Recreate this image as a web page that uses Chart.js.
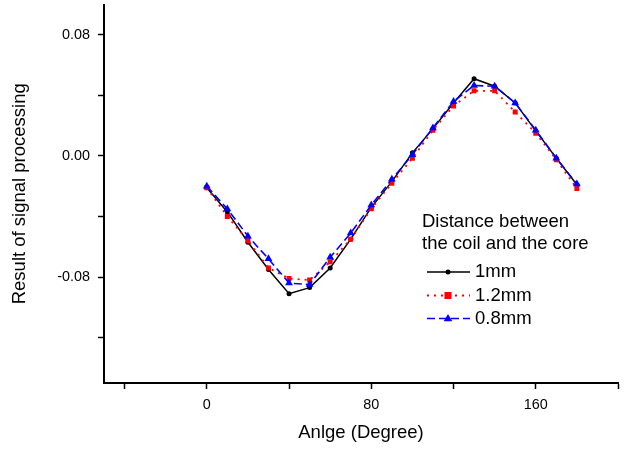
<!DOCTYPE html>
<html>
<head>
<meta charset="utf-8">
<script src="https://cdn.jsdelivr.net/npm/chart.js@4/dist/chart.umd.min.js"></script>
<style>
  html, body { margin: 0; padding: 0; background: #fff; }
  #wrap { width: 627px; height: 449px; position: relative; }
</style>
</head>
<body>
<div id="wrap"><canvas id="c" width="627" height="449"></canvas></div>
<script>
// ---- data ----
const angles = [0, 10, 20, 30, 40, 50, 60, 70, 80, 90, 100, 110, 120, 130, 140, 150, 160, 170, 180];
const series1mm  = [-0.021, -0.037, -0.057, -0.075, -0.091, -0.087, -0.074, -0.055, -0.034, -0.017, 0.002, 0.018, 0.035, 0.051, 0.046, 0.035, 0.0165, -0.0015, -0.019];
const series12mm = [-0.021, -0.040, -0.056, -0.074, -0.081, -0.082, -0.070, -0.055, -0.035, -0.018, -0.0015, 0.017, 0.033, 0.043, 0.043, 0.029, 0.015, -0.0025, -0.0215];
const series08mm = [-0.020, -0.035, -0.053, -0.068, -0.084, -0.085, -0.067, -0.051, -0.0325, -0.0155, 0.0008, 0.0185, 0.036, 0.0465, 0.046, 0.035, 0.017, -0.0015, -0.0186];
const seriesLabels = ['1mm', '1.2mm', '0.8mm'];
const legendTitle = ['Distance between', 'the coil and the core'];
const xTicks = [-40, 0, 40, 80, 120, 160, 200];
const xLabeled = [0, 80, 160];
const yTicks = [-0.12, -0.08, -0.04, 0, 0.04, 0.08];
const yLabeled = [-0.08, 0, 0.08];
const xTitle = 'Anlge (Degree)';
const yTitle = 'Result of signal processing';

const FONT = '"Liberation Sans", Arial, sans-serif';

function pts(arr) { return angles.map((a, i) => ({ x: a, y: arr[i] })); }

const styles = [
  { color: '#000000', dash: [], point: 'circle', r: 2.5, width: 1.5 },
  { color: '#ff0000', dash: [2, 5], point: 'rect', r: 3.5, width: 1.8 },
  { color: '#0000ff', dash: [8, 4], point: 'triangle', r: 4.5, width: 1.6 }
];
const seriesData = [series1mm, series12mm, series08mm];

const datasets = seriesData.map((s, i) => ({
  label: seriesLabels[i],
  data: pts(s),
  borderColor: styles[i].color,
  backgroundColor: styles[i].color,
  borderWidth: styles[i].width,
  borderDash: styles[i].dash,
  pointStyle: styles[i].point,
  pointRadius: styles[i].r,
  pointBorderWidth: 0,
  pointBackgroundColor: styles[i].color,
  pointBorderColor: styles[i].color,
  tension: 0,
  order: 3 - i
}));

const legendPlugin = {
  id: 'customLegend',
  afterDraw(chart) {
    const ctx = chart.ctx;
    ctx.save();
    ctx.font = '18.5px ' + FONT;
    ctx.fillStyle = '#000';
    ctx.textBaseline = 'middle';
    ctx.textAlign = 'left';
    ctx.fillText(legendTitle[0], 422, 222);
    ctx.fillText(legendTitle[1], 422, 243.5);
    const rows = [272, 295.5, 318.5];
    seriesLabels.forEach((lab, i) => {
      const st = styles[i];
      const y = rows[i];
      ctx.strokeStyle = st.color;
      ctx.lineWidth = st.width;
      ctx.setLineDash(st.dash);
      ctx.beginPath();
      ctx.moveTo(427, y);
      ctx.lineTo(470, y);
      ctx.stroke();
      ctx.setLineDash([]);
      ctx.fillStyle = st.color;
      const cx = 448;
      if (st.point === 'circle') {
        ctx.beginPath(); ctx.arc(cx, y, st.r, 0, Math.PI * 2); ctx.fill();
      } else if (st.point === 'rect') {
        ctx.fillRect(cx - st.r, y - st.r, st.r * 2, st.r * 2);
      } else {
        const r = st.r;
        ctx.beginPath();
        ctx.moveTo(cx, y - r);
        ctx.lineTo(cx + r * 0.95, y + r * 0.6);
        ctx.lineTo(cx - r * 0.95, y + r * 0.6);
        ctx.closePath(); ctx.fill();
      }
      ctx.fillStyle = '#000';
      ctx.fillText(lab, 475, y);
    });
    ctx.restore();
  }
};

new Chart(document.getElementById('c'), {
  type: 'line',
  data: { datasets },
  options: {
    responsive: false,
    animation: false,
    events: [],
    layout: { padding: { left: 0, right: 9, top: 2, bottom: 0 } },
    plugins: { legend: { display: false }, tooltip: { enabled: false } },
    scales: {
      x: {
        type: 'linear',
        min: -50, max: 200,
        afterBuildTicks(scale) { scale.ticks = xTicks.map(v => ({ value: v })); },
        afterFit(scale) { scale.height = 66; scale.paddingLeft = 0; scale.paddingRight = 0; },
        grid: { drawOnChartArea: false, drawTicks: true, tickLength: 6, tickWidth: 1.5, tickColor: '#000' },
        border: { display: true, color: '#000', width: 2 },
        ticks: {
          color: '#000', padding: 7, maxRotation: 0, autoSkip: false,
          font: { family: FONT, size: 14.4 },
          callback: v => xLabeled.includes(v) ? String(v) : ''
        },
        title: { display: true, text: xTitle, color: '#000', font: { family: FONT, size: 18.5 }, padding: { top: 5, bottom: 5 } }
      },
      y: {
        type: 'linear',
        min: -0.15, max: 0.10,
        afterBuildTicks(scale) { scale.ticks = yTicks.map(v => ({ value: v })); },
        afterFit(scale) { scale.width = 104; scale.paddingTop = 0; scale.paddingBottom = 0; },
        grid: { drawOnChartArea: false, drawTicks: true, tickLength: 6, tickWidth: 1.5, tickColor: '#000' },
        border: { display: true, color: '#000', width: 2 },
        ticks: {
          color: '#000', padding: 8, autoSkip: false,
          font: { family: FONT, size: 14.4 },
          callback: v => yLabeled.some(t => Math.abs(t - v) < 1e-9) ? (Math.abs(v) < 1e-9 ? '0.00' : v.toFixed(2)) : ''
        },
        title: { display: true, text: yTitle, color: '#000', font: { family: FONT, size: 18.5 }, padding: { top: 9, bottom: 9 } }
      }
    }
  },
  plugins: [legendPlugin]
});
</script>
</body>
</html>
